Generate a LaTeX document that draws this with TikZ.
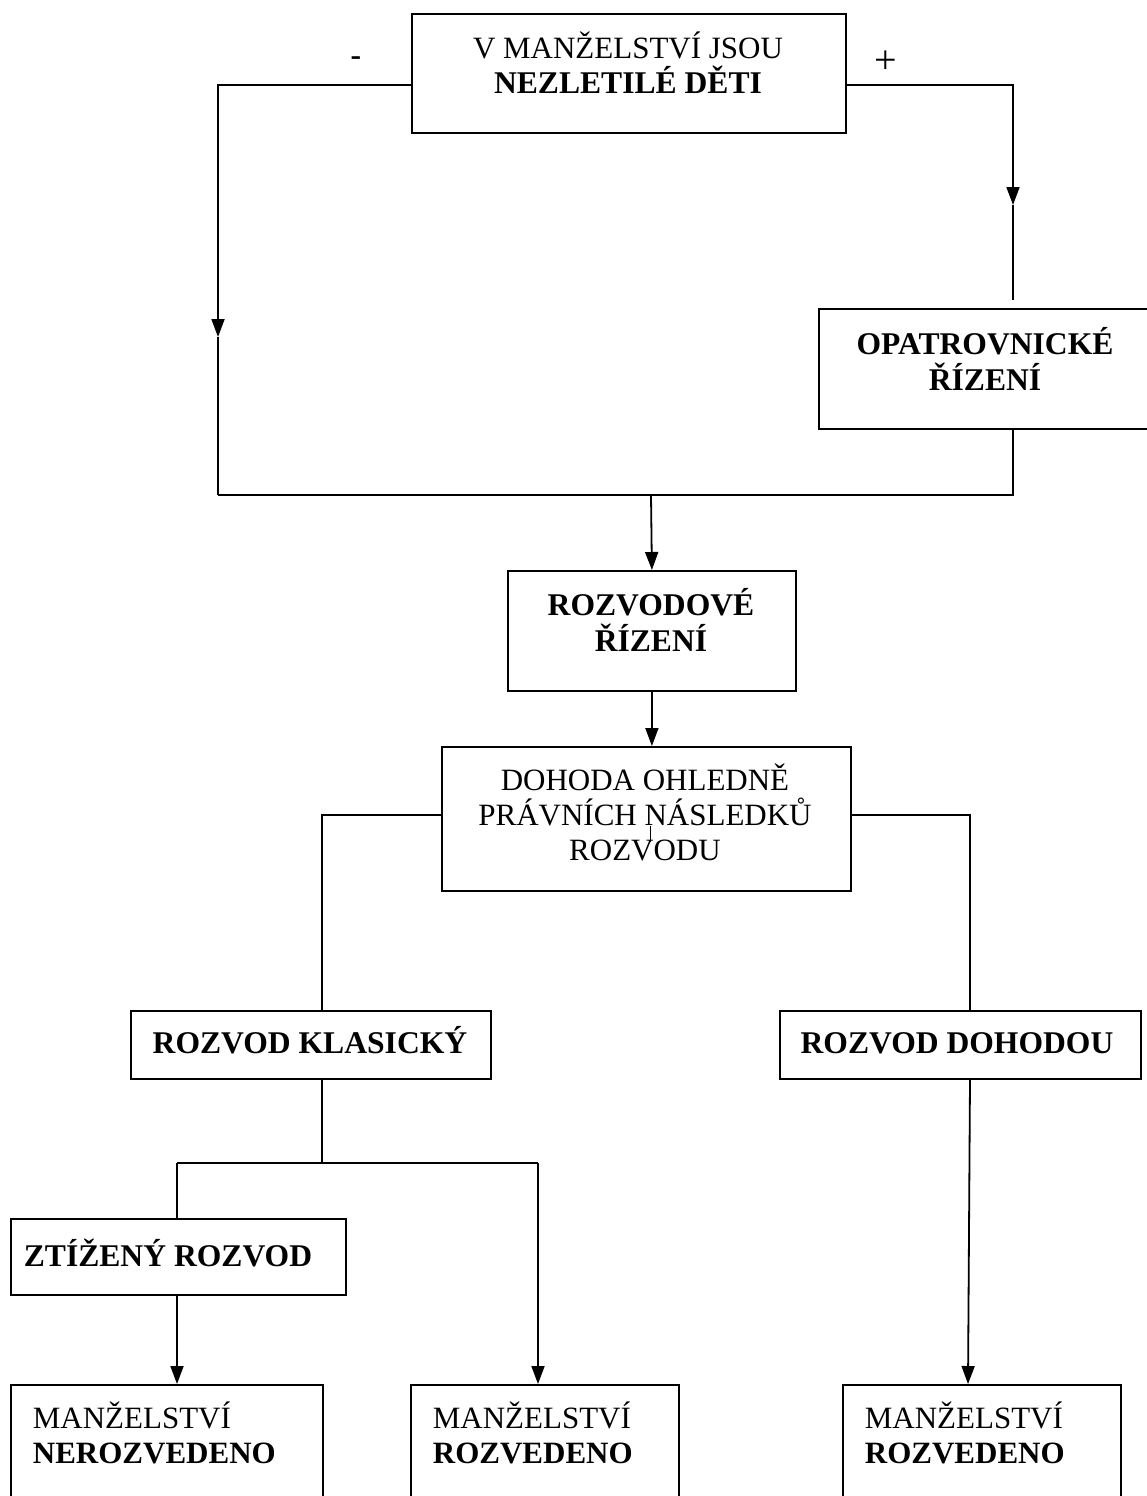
\documentclass[tikz,border=0pt]{standalone}
\usepackage{fontspec}
\setmainfont{Liberation Serif}
\usetikzlibrary{arrows.meta}
\begin{document}
\begin{tikzpicture}[x=1pt,y=-1pt,
  line width=1.8pt,
  boxn/.style={draw, line width=1.8pt, rectangle, inner sep=0pt, anchor=north west},
  txt/.style={inner sep=0pt, align=center, font=\fontsize{31}{35}\selectfont},
  txtb/.style={inner sep=0pt, align=center, font=\fontsize{31.6}{36}\selectfont\bfseries},
  txtl/.style={inner sep=0pt, align=left, anchor=west, font=\fontsize{31}{35}\selectfont},
  arr/.style={-{Triangle[length=18pt,width=13pt]}},
]
\useasboundingbox (0,0) rectangle (1146,1496);
% boxes
\node[boxn, minimum width=434pt, minimum height=119pt] (top) at (411,13) {};
\node[boxn, minimum width=330pt, minimum height=120pt] (opat) at (818,308) {};
\node[boxn, minimum width=288pt, minimum height=120pt] (rozr) at (507,570) {};
\node[boxn, minimum width=409pt, minimum height=144pt] (doh) at (441,746) {};
\node[boxn, minimum width=360pt, minimum height=68pt] (klas) at (130,1010) {};
\node[boxn, minimum width=361pt, minimum height=68pt] (dohod) at (779,1010) {};
\node[boxn, minimum width=335pt, minimum height=76pt] (ztiz) at (10,1218) {};
\node[boxn, minimum width=312pt, minimum height=160pt] (mA) at (10,1384) {};
\node[boxn, minimum width=268pt, minimum height=160pt] (mB) at (410,1384) {};
\node[boxn, minimum width=278pt, minimum height=160pt] (mC) at (842,1384) {};
% texts
\node[txt] (ttop1) at (628,45) {V MANŽELSTVÍ JSOU};
\node[txtb] (ttop2) at (628,80) {NEZLETILÉ DĚTI};
\node[txtb] (minus) at (356,61) {-};
\node[inner sep=0pt, font=\fontsize{40}{40}\selectfont] (plus) at (886,62) {+};
\node[txtb] (topat) at (985,359) {OPATROVNICKÉ\\ŘÍZENÍ};
\node[txtb] (trozr) at (651,620) {ROZVODOVÉ\\ŘÍZENÍ};
\node[txt] (tdoh) at (645,812) {DOHODA OHLEDNĚ\\PRÁVNÍCH NÁSLEDKŮ\\ROZVODU};
\node[txtb] (tklas) at (310,1040) {ROZVOD KLASICKÝ};
\node[txtb] (tdohod) at (957,1043) {ROZVOD DOHODOU};
\node[txtb] (tztiz) at (168,1253) {ZTÍŽENÝ ROZVOD};
\node[txtl] (tmA) at (32,1433) {MANŽELSTVÍ\\\textbf{NEROZVEDENO}};
\node[txtl] (tmB) at (432,1433) {MANŽELSTVÍ\\\textbf{ROZVEDENO}};
\node[txtl] (tmC) at (864,1433) {MANŽELSTVÍ\\\textbf{ROZVEDENO}};
% coordinates
\coordinate (lc) at (218,85);
\coordinate (lm) at (218,337);
\coordinate (lb) at (218,495);
\coordinate (rc) at (1013,85);
\coordinate (rm) at (1013,205);
\coordinate (re) at (1013,300);
\coordinate (rb) at (1013,495);
\coordinate (jn) at (651,495);
\coordinate (dl) at (322,815);
\coordinate (dr) at (970,815);
\coordinate (kj) at (322,1163);
\coordinate (kl) at (177,1163);
\coordinate (kr) at (538,1163);
\coordinate (tick1) at (650,826);
\coordinate (tick2) at (650,842);
% connectors
\draw[arr] (top.west |- lc) -- (lc) -- (lm);
\draw (lm) -- (lb);
\draw[arr] (top.east |- rc) -- (rc) -- (rm);
\draw (rm) -- (re);
\draw (opat.south -| rb) -- (rb) -- (lb);
\draw[arr] (jn) -- (rozr.north);
\draw[arr] (rozr.south) -- (rozr.south |- doh.north);
\draw (doh.west |- dl) -- (dl) -- (dl |- klas.north);
\draw (doh.east |- dr) -- (dr) -- (dr |- dohod.north);
\draw (klas.south -| kj) -- (kj);
\draw (kl) -- (kr);
\draw (kl) -- (kl |- ztiz.north);
\draw[arr] (kr) -- (kr |- mB.north);
\draw[arr] (ztiz.south -| kl) -- (kl |- mA.north);
\draw[arr] (dohod.south -| dr) -- (968,1384);
\draw[line width=1pt] (tick1) -- (tick2);
\end{tikzpicture}
\end{document}
